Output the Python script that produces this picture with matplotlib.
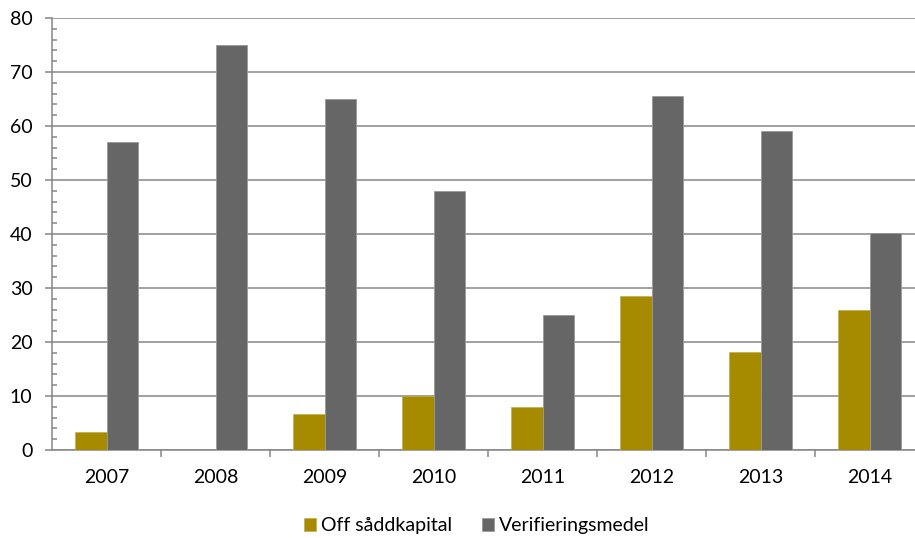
import numpy as np
import matplotlib
matplotlib.use("Agg")
import matplotlib.pyplot as plt
from matplotlib.ticker import MultipleLocator

years = ["2007", "2008", "2009", "2010", "2011", "2012", "2013", "2014"]
off_saddkapital = [3.3, 0, 6.6, 10, 7.9, 28.6, 18.1, 26.0]
verifieringsmedel = [57, 75, 65, 48, 25, 65.5, 59.1, 40.1]

gold = "#a68a00"
grey = "#666666"
line = "#868686"

plt.rcParams["font.family"] = ["Lato", "DejaVu Sans"]
plt.rcParams["font.size"] = 14

fig = plt.figure(figsize=(9.15, 5.38), dpi=100)
ax = fig.add_axes([52 / 915, 1 - 450 / 538, 872 / 915, 432 / 538])

x = np.arange(len(years))
w = 0.285
ax.bar(x - w / 2, off_saddkapital, w, color=gold, edgecolor="#c2ad4a", linewidth=0.5,
       label="Off såddkapital", zorder=3)
ax.bar(x + w / 2, verifieringsmedel, w, color=grey, edgecolor="#9a9a9a", linewidth=0.6,
       label="Verifieringsmedel", zorder=3)

ax.set_xlim(-0.5, len(years) - 0.5)
ax.set_ylim(0, 80)
ax.yaxis.set_major_locator(MultipleLocator(10))
ax.yaxis.set_minor_locator(MultipleLocator(2))
ax.set_xticks(x)
ax.set_xticklabels(years)
ax.set_xticks(np.arange(0.5, len(years) - 0.5), minor=True)

ax.grid(axis="y", color=line, linewidth=1.1, zorder=0)
for s in ["top", "right"]:
    ax.spines[s].set_visible(False)
for s in ["left", "bottom"]:
    ax.spines[s].set_color(line)
    ax.spines[s].set_linewidth(1.1)

ax.tick_params(axis="y", which="major", length=5, width=1.1, color=line, pad=9)
ax.tick_params(axis="y", which="minor", direction="in", length=3.5, width=1.1, color=line)
ax.tick_params(axis="x", which="major", length=0, pad=14)
ax.tick_params(axis="x", which="minor", length=5, width=1.1, color=line)

fig.legend(loc="center", bbox_to_anchor=(0.521, 1 - 526 / 538), ncol=2, frameon=False,
           handlelength=0.62, handleheight=0.62, handletextpad=0.25, columnspacing=1.5)

fig.savefig("out.png", dpi=100)
plt.close(fig)
